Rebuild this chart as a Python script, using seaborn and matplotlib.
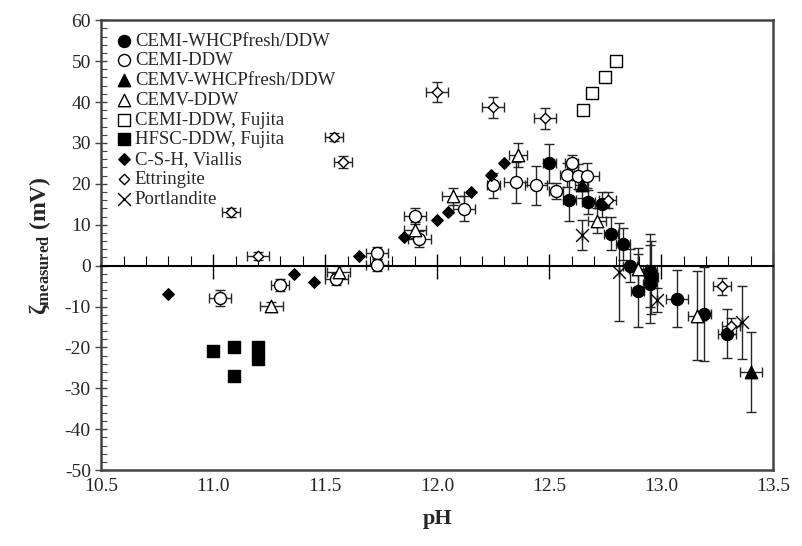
import numpy as np
import pandas as pd
import matplotlib
matplotlib.use("Agg")
import matplotlib.pyplot as plt
import seaborn as sns
from matplotlib.ticker import MultipleLocator, FormatStrFormatter

# ---------------- data ----------------
# CEMI-WHCPfresh/DDW (filled circles)
cem1_whcp_ph   = [12.50, 12.59, 12.675, 12.735, 12.775, 12.83, 12.86, 12.895, 12.95, 12.955, 12.95, 13.07, 13.19, 13.295]
cem1_whcp_zeta = [25.0, 16.1, 15.6, 15.0, 7.8, 5.3, 0.0, -6.1, -1.2, -2.9, -4.5, -8.1, -11.8, -16.7]
cem1_whcp_xerr = [0.03, 0.03, 0.03, 0.03, 0.03, 0.03, 0.03, 0.03, 0.03, 0.03, 0.03, 0.05, 0.03, 0.04]
cem1_whcp_yerr = [4.7, 5.2, 3.0, 3.0, 4.0, 4.0, 4.0, 9.0, 9.0, 9.0, 9.5, 7.0, 11.5, 6.0]

# CEMI-DDW (open circles)
cem1_ddw_ph   = [11.03, 11.30, 11.55, 11.73, 11.73, 11.90, 11.92, 12.12, 12.25, 12.35, 12.44, 12.53, 12.58, 12.60, 12.63, 12.67]
cem1_ddw_zeta = [-7.9, -4.7, -3.3, 3.1, 0.2, 12.2, 6.5, 13.9, 19.6, 20.4, 19.6, 18.3, 22.2, 25.0, 21.8, 22.0]
cem1_ddw_xerr = [0.05, 0.04, 0.05, 0.05, 0.05, 0.05, 0.05, 0.05, 0.03, 0.05, 0.05, 0.03, 0.03, 0.03, 0.03, 0.05]
cem1_ddw_yerr = [2.0, 1.5, 1.5, 1.5, 1.5, 2.0, 2.0, 3.0, 3.0, 5.0, 4.7, 2.0, 3.0, 2.0, 3.0, 3.0]

# CEMV-WHCPfresh/DDW (filled triangles)
cem5_whcp_ph   = [12.645, 13.40]
cem5_whcp_zeta = [19.6, -26.1]
cem5_whcp_xerr = [0.03, 0.05]
cem5_whcp_yerr = [3.0, 9.8]

# CEMV-DDW (open triangles)
cem5_ddw_ph   = [11.26, 11.56, 11.90, 12.07, 12.36, 12.715, 12.895, 13.16]
cem5_ddw_zeta = [-9.9, -1.5, 8.7, 16.9, 27.0, 11.0, -0.8, -12.2]
cem5_ddw_xerr = [0.05, 0.05, 0.05, 0.05, 0.04, 0.04, 0.04, 0.04]
cem5_ddw_yerr = [1.0, 1.5, 2.0, 2.0, 3.0, 3.0, 5.0, 11.0]

# CEMI-DDW, Fujita (open squares)
fuj_cem1_ph   = [12.65, 12.69, 12.75, 12.80]
fuj_cem1_zeta = [38.1, 42.2, 46.2, 50.1]

# HFSC-DDW, Fujita (filled squares)
fuj_hfsc_ph   = [11.00, 11.095, 11.095, 11.20, 11.20]
fuj_hfsc_zeta = [-20.8, -19.8, -26.9, -20.0, -22.8]

# C-S-H, Viallis (filled diamonds)
csh_ph   = [10.80, 11.36, 11.45, 11.65, 11.85, 12.00, 12.05, 12.15, 12.24, 12.30]
csh_zeta = [-6.9, -2.0, -3.9, 2.3, 7.1, 11.1, 13.0, 17.9, 22.2, 25.0]

# Ettringite (open diamonds)
ett_ph   = [11.08, 11.20, 11.54, 11.58, 12.00, 12.25, 12.48, 12.76, 13.27, 13.31]
ett_zeta = [13.0, 2.3, 31.4, 25.3, 42.4, 38.7, 36.0, 16.1, -5.1, -14.7]
ett_xerr = [0.04, 0.05, 0.04, 0.04, 0.05, 0.05, 0.05, 0.04, 0.04, 0.04]
ett_yerr = [1.0, 1.0, 1.0, 1.5, 2.5, 2.5, 2.5, 2.0, 2.0, 2.0]

# Portlandite (crosses)
port_ph   = [12.645, 12.81, 12.98, 13.36]
port_zeta = [7.5, -1.6, -8.4, -13.9]
port_xerr = [0.0, 0.0, 0.0, 0.0]
port_yerr = [3.7, 12.0, 3.0, 9.0]

x_ticks = [10.5, 11.0, 11.5, 12.0, 12.5, 13.0, 13.5]
y_ticks = [-50, -40, -30, -20, -10, 0, 10, 20, 30, 40, 50, 60]

# ---------------- style ----------------
sns.set_theme(style="white")
plt.rcParams['font.family'] = ['Liberation Serif', 'DejaVu Serif']
plt.rcParams['axes.unicode_minus'] = False
plt.rcParams['mathtext.fontset'] = 'custom'
plt.rcParams['mathtext.rm'] = 'Liberation Serif'
plt.rcParams['mathtext.it'] = 'Liberation Serif:italic'
plt.rcParams['mathtext.bf'] = 'Liberation Serif:bold'

fig = plt.figure(figsize=(8.03, 5.46), dpi=100)
ax = fig.add_axes([0.126, 0.139, 0.963 - 0.126, 0.963 - 0.139])

series = [
    ("CEMI-WHCPfresh/DDW", cem1_whcp_ph, cem1_whcp_zeta, cem1_whcp_xerr, cem1_whcp_yerr, "o", True, 75),
    ("CEMI-DDW", cem1_ddw_ph, cem1_ddw_zeta, cem1_ddw_xerr, cem1_ddw_yerr, "o", False, 75),
    ("CEMV-WHCPfresh/DDW", cem5_whcp_ph, cem5_whcp_zeta, cem5_whcp_xerr, cem5_whcp_yerr, "^", True, 80),
    ("CEMV-DDW", cem5_ddw_ph, cem5_ddw_zeta, cem5_ddw_xerr, cem5_ddw_yerr, "^", False, 80),
    ("CEMI-DDW, Fujita", fuj_cem1_ph, fuj_cem1_zeta, None, None, "s", False, 66),
    ("HFSC-DDW, Fujita", fuj_hfsc_ph, fuj_hfsc_zeta, None, None, "s", True, 66),
    ("C-S-H, Viallis", csh_ph, csh_zeta, None, None, "D", True, 34),
    ("Ettringite", ett_ph, ett_zeta, ett_xerr, ett_yerr, "D", False, 28),
    ("Portlandite", port_ph, port_zeta, port_xerr, port_yerr, "x", True, 85),
]

ecol = "#262626"
for name, xs, ys, xe, ye, mk, filled, sz in series:
    if xe is not None:
        ax.errorbar(xs, ys, xerr=xe, yerr=ye, fmt="none", ecolor=ecol,
                    elinewidth=1.0, capsize=3.5, capthick=1.0, zorder=2)

for name, xs, ys, xe, ye, mk, filled, sz in series:
    df = pd.DataFrame({"pH": xs, "zeta": ys})
    if mk == "x":
        sns.scatterplot(data=df, x="pH", y="zeta", marker="x", s=sz, color="black",
                        linewidth=1.0, ax=ax, label=name, zorder=3)
    else:
        sns.scatterplot(data=df, x="pH", y="zeta", marker=mk, s=sz,
                        facecolor="black" if filled else "white",
                        edgecolor="black", linewidth=1.0, ax=ax, label=name, zorder=3)

ax.set_xlim(10.5, 13.5)
ax.set_ylim(-50, 60)
ax.set_xlabel("")
ax.set_ylabel("")

# frame
for sp in ["top", "right", "left"]:
    ax.spines[sp].set_color("#444444")
    ax.spines[sp].set_linewidth(1.8)
ax.spines["bottom"].set_position(("data", 0))
ax.spines["bottom"].set_color("black")
ax.spines["bottom"].set_linewidth(1.5)

ax.set_yticks(y_ticks)
ax.yaxis.set_minor_locator(MultipleLocator(2))
ax.tick_params(axis="y", which="major", direction="inout", length=9, width=1.0,
               color="#444444", labelsize=14, pad=3, left=True)
ax.tick_params(axis="y", which="minor", direction="in", length=4, width=0.8,
               color="#444444", left=True)

ax.set_xticks(x_ticks)
ax.xaxis.set_minor_locator(MultipleLocator(0.1))
ax.tick_params(axis="x", which="major", direction="inout", length=18, width=1.0,
               color="black", labelbottom=False, bottom=True)
ax.tick_params(axis="x", which="minor", direction="in", length=7, width=0.8,
               color="black", bottom=True)

sec = ax.secondary_xaxis("bottom")
sec.set_xticks(x_ticks)
sec.xaxis.set_major_formatter(FormatStrFormatter("%.1f"))
sec.tick_params(axis="x", length=0, labelsize=14, pad=6)
sec.spines["bottom"].set_color("#444444")
sec.spines["bottom"].set_linewidth(1.8)
sec.set_xlabel("pH", fontsize=16, fontweight="bold", labelpad=10)

ax.set_ylabel("ζ" + r"$_{\mathbf{measured}}$" + " (mV)", fontsize=17, fontweight="bold", labelpad=8)

leg = ax.legend(loc="upper left", frameon=False, fontsize=13.5, handletextpad=0.05,
                handlelength=1.1, labelspacing=0.14, borderaxespad=0.45, borderpad=0.2)

fig.savefig("out.png", dpi=100)
